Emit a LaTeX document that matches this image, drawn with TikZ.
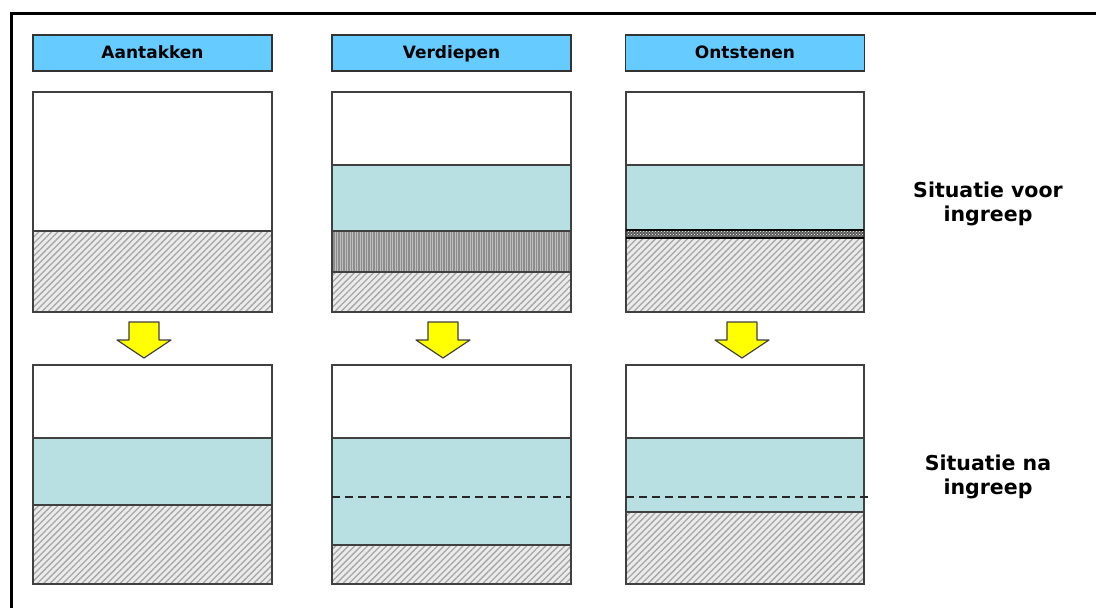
\documentclass[tikz,border=0pt]{standalone}
\usepackage{fontspec}
\setmainfont{DejaVu Sans}
\usetikzlibrary{patterns,patterns.meta}

\definecolor{kopblauw}{RGB}{102,204,255}
\definecolor{water}{RGB}{184,223,225}
\definecolor{pijlgeel}{RGB}{255,255,0}

\tikzset{
  laag/.style={draw=black!75,line width=1.4pt},
  leeg/.style={laag,fill=white},
  waterlaag/.style={laag,fill=water},
  grond/.style={laag,preaction={fill=black!8},
    pattern={Lines[angle=45,distance=4.5pt,line width=1.3pt]},pattern color=black!35},
  sliblaag/.style={laag,preaction={fill=black!45},
    pattern={Lines[angle=90,distance=2.5pt,line width=0.8pt]},pattern color=black!25},
  steenlaag/.style={laag,preaction={fill=black!65},pattern=crosshatch dots,pattern color=white},
  kop/.style={draw=black!80,line width=1.4pt,fill=kopblauw,minimum width=239pt,minimum height=36pt,
    inner sep=0pt,text height=13pt,text depth=3pt,font=\bfseries\fontsize{17}{19}\selectfont},
  situatie/.style={align=center,font=\bfseries\fontsize{20.5}{24}\selectfont},
  peil/.style={line width=2.8pt,black!85,dash pattern=on 8pt off 5pt},
  pijl/.style={draw=black!75,line width=1.2pt,fill=pijlgeel,line join=round}
}

\begin{document}
\begin{tikzpicture}[x=1pt,y=-1pt]
\useasboundingbox (0,0) rectangle (1096,608);
\fill[white] (0,0) rectangle (1096,608);
\draw[line width=3pt] (11,608) -- (11,13) -- (1096,13);

% koppen
\node[kop] (aantakken) at (152.5,53) {Aantakken};
\node[kop] (verdiepen) at (451.5,53) {Verdiepen};
\node[kop] (ontstenen) at (745,53) {Ontstenen};

% situatie voor ingreep
\draw[leeg] (33,92) rectangle (272,231);
\draw[grond] (33,231) rectangle (272,312);

\draw[leeg] (332,92) rectangle (571,165);
\draw[waterlaag] (332,165) rectangle (571,231);
\draw[sliblaag] (332,231) rectangle (571,272);
\draw[grond] (332,272) rectangle (571,312);

\draw[leeg] (626,92) rectangle (864,165);
\draw[waterlaag] (626,165) rectangle (864,230);
\draw[grond] (626,238) rectangle (864,312);
\draw[steenlaag] (626,230) rectangle (864,238);
\draw[line width=1.6pt] (626,230) -- (864,230) (626,238) -- (864,238);

% pijlen
\foreach \cx in {144,443,742}
  \draw[pijl] (\cx-15,322) -- (\cx+15,322) -- (\cx+15,340) -- (\cx+27,340)
    -- (\cx,358) -- (\cx-27,340) -- (\cx-15,340) -- cycle;

% situatie na ingreep
\draw[leeg] (33,365) rectangle (272,438);
\draw[waterlaag] (33,438) rectangle (272,505);
\draw[grond] (33,505) rectangle (272,584);

\draw[leeg] (332,365) rectangle (571,438);
\draw[waterlaag] (332,438) rectangle (571,545);
\draw[grond] (332,545) rectangle (571,584);
\draw[peil] (332,497) -- (571,497);

\draw[leeg] (626,365) rectangle (864,438);
\draw[waterlaag] (626,438) rectangle (864,512);
\draw[grond] (626,512) rectangle (864,584);
\draw[peil] (626,497) -- (868,497);

% toelichting
\node[situatie] (voor) at (988,204) {Situatie voor\\ingreep};
\node[situatie] (na) at (988,477) {Situatie na\\ingreep};
\end{tikzpicture}
\end{document}
